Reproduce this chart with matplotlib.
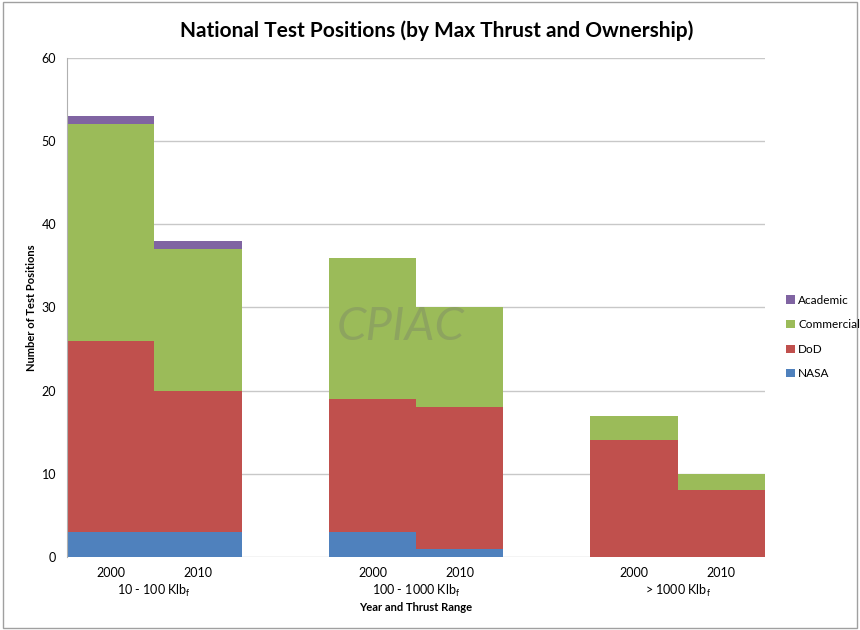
import numpy as np
import matplotlib.pyplot as plt

plt.rcParams['font.family'] = ['Lato', 'DejaVu Sans']

years = ['2000', '2010', '2000', '2010', '2000', '2010']
groups = ['10 - 100 Klb$_\\mathregular{f}$', '100 - 1000 Klb$_\\mathregular{f}$', '> 1000 Klb$_\\mathregular{f}$']
nasa = [3, 3, 3, 1, 0, 0]
dod = [23, 17, 16, 17, 14, 8]
commercial = [26, 17, 17, 12, 3, 2]
academic = [1, 1, 0, 0, 0, 0]

series = [('NASA', nasa, '#4F81BD'), ('DoD', dod, '#C0504D'),
          ('Commercial', commercial, '#9BBB59'), ('Academic', academic, '#8064A2')]

# slots 2 and 5 are empty gaps between the groups
x = np.array([0, 1, 3, 4, 6, 7])

fig = plt.figure(figsize=(8.6, 6.3), dpi=100)
ax = fig.add_axes([0.078, 0.116, 0.8115, 0.792])

bottom = np.zeros(len(x))
handles = []
for name, vals, col in series:
    b = ax.bar(x, vals, width=1.0, bottom=bottom, color=col, label=name, zorder=2)
    handles.append(b)
    bottom += np.array(vals)

ax.set_xlim(-0.5, 7.5)
ax.set_ylim(0, 60)
ax.set_yticks(range(0, 61, 10))
ax.yaxis.grid(True, color='#c8c8c8', linewidth=1, zorder=0)
ax.set_axisbelow(True)
for s in ['top', 'right', 'bottom']:
    ax.spines[s].set_visible(False)
ax.spines['left'].set_color('#b0b0b0')
ax.tick_params(axis='y', length=0, labelsize=9, pad=8)
ax.tick_params(axis='x', length=0, labelsize=9, pad=7)
ax.set_xticks(x)
ax.set_xticklabels(years)

for i, g in enumerate(groups):
    ax.text(3 * i + 0.5, -0.052, g, transform=ax.get_xaxis_transform(),
            ha='center', va='top', fontsize=9)

ax.set_xlabel('Year and Thrust Range', fontsize=8, fontweight='bold', labelpad=17)
ax.set_ylabel('Number of Test Positions', fontsize=8, fontweight='bold', labelpad=3)

fig.suptitle('National Test Positions (by Max Thrust and Ownership)',
             fontsize=15, fontweight='bold', x=0.508, y=0.968)

# watermark
ax.text(3.32, 27.7, 'CPIAC', fontsize=34, style='italic', color='#6f6f6f',
        alpha=0.3, ha='center', va='center', zorder=5)

leg = fig.legend(handles[::-1], [h.get_label() for h in handles[::-1]],
                 loc='center left', bbox_to_anchor=(0.902, 0.465), frameon=False,
                 fontsize=8.5, handlelength=0.7, handleheight=0.7,
                 labelspacing=1.15, handletextpad=0.3)

fig.patches.append(plt.Rectangle((0.004, 0.003), 0.992, 0.994, transform=fig.transFigure,
                                 fill=False, edgecolor='#a0a0a0', linewidth=1))

fig.savefig('out.png', dpi=100)
